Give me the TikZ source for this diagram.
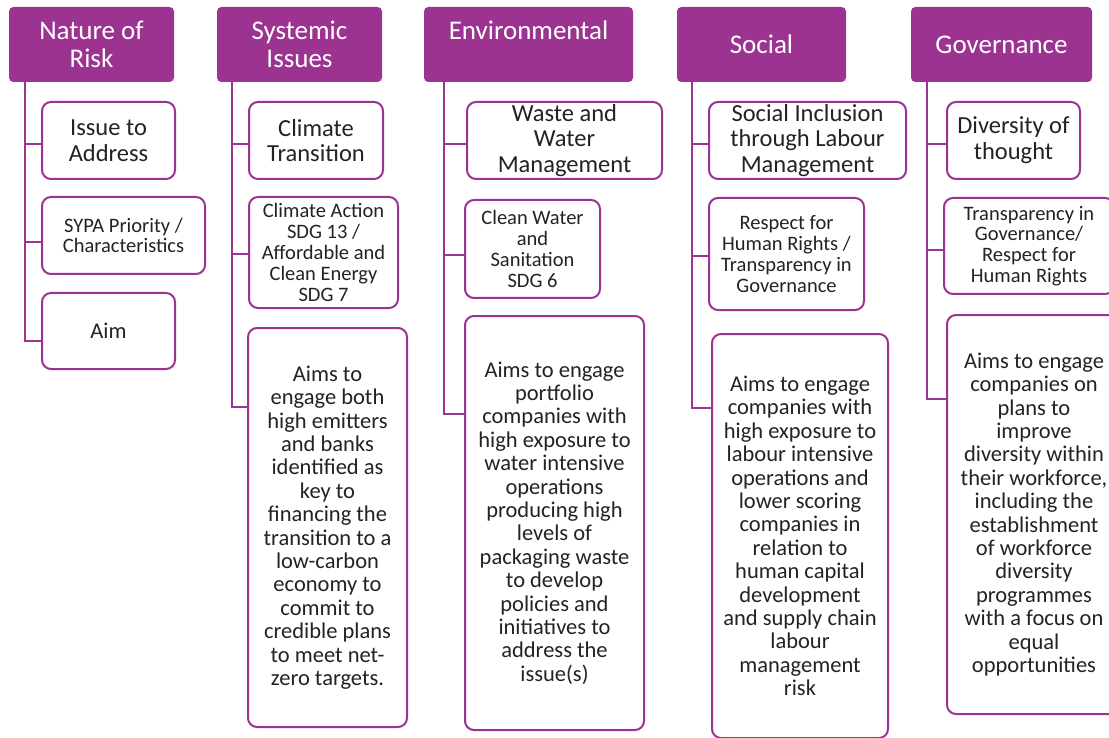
\documentclass[tikz,border=0pt]{standalone}
\usepackage{fontspec}
\setmainfont{Carlito}
\definecolor{pur}{RGB}{156,51,145}
\definecolor{txt}{RGB}{35,35,35}
\tikzset{
  hdr/.style={draw=pur, fill=pur, rounded corners=4pt, text=white, font=\fontsize{27}{28.3}\selectfont, align=center, anchor=north west, inner sep=0pt, line width=1pt},
  bx/.style={draw=pur, fill=white, rounded corners=9pt, line width=2pt, text=txt, align=center, anchor=north west, inner sep=0pt},
  big/.style={font=\fontsize{24.5}{25.7}\selectfont},
  sml/.style={font=\fontsize{20.5}{20.8}\selectfont},
  aimt/.style={font=\fontsize{22.5}{23.4}\selectfont},
  conn/.style={draw=pur, line width=2.5pt},
}
\begin{document}
\begin{tikzpicture}[x=1pt,y=-1pt]
\useasboundingbox (0,0) rectangle (1109,738);
\fill[white] (0,0) rectangle (1109,738);
\clip (0,0) rectangle (1109,738);
% Column 1
\node[hdr, minimum width=164pt, minimum height=74pt] (h1) at (9,7) {Nature of\\Risk};
\node[bx, big, minimum width=133pt, minimum height=77pt] (b11) at (41,101) {Issue to\\Address};
\node[bx, sml, minimum width=163pt, minimum height=77pt] (b12) at (41,196) {SYPA Priority /\\Characteristics};
\node[bx, aimt, minimum width=133pt, minimum height=76pt] (b13) at (41,292) {Aim};
\draw[conn] ([xshift=16pt]h1.south west) |- ([yshift=-10pt]b13.west);
\draw[conn] ([xshift=16pt]h1.south west) |- ([yshift=-3.5pt]b11.west);
\draw[conn] ([xshift=16pt]h1.south west) |- ([yshift=-6.5pt]b12.west);
% Column 2
\node[hdr, minimum width=164pt, minimum height=74pt] (h2) at (217,7) {Systemic\\Issues};
\node[bx, big, minimum width=134pt, minimum height=77pt] (b21) at (248,101) {Climate\\Transition};
\node[bx, sml, minimum width=149pt, minimum height=111pt] (b22) at (248,196) {Climate Action\\SDG 13 /\\Affordable and\\Clean Energy\\SDG 7};
\node[bx, aimt, minimum width=159pt, minimum height=399pt] (b23) at (247,327) {Aims to\\engage both\\high emitters\\and banks\\identified as\\key to\\financing the\\transition to a\\low-carbon\\economy to\\commit to\\credible plans\\to meet net-\\zero targets.};
\draw[conn] ([xshift=15pt]h2.south west) |- ([yshift=-80pt]b23.north west);
\draw[conn] ([xshift=15pt]h2.south west) |- ([yshift=-3.5pt]b21.west);
\draw[conn] ([xshift=15pt]h2.south west) |- ([yshift=-1.5pt]b22.west);
% Column 3
\node[hdr, minimum width=208pt, minimum height=74pt] (h3) at (424,7) {Environmental\\\mbox{}};
\node[bx, big, minimum width=195pt, minimum height=77pt] (b31) at (466,101) {Waste and\\Water\\Management};
\node[bx, sml, minimum width=135pt, minimum height=98pt] (b32) at (464,199) {Clean Water\\and\\Sanitation\\SDG 6};
\node[bx, aimt, minimum width=179pt, minimum height=414pt] (b33) at (464,315) {Aims to engage\\portfolio\\companies with\\high exposure to\\water intensive\\operations\\producing high\\levels of\\packaging waste\\to develop\\policies and\\initiatives to\\address the\\issue(s)};
\draw[conn] ([xshift=20pt]h3.south west) |- ([yshift=-99pt]b33.north west);
\draw[conn] ([xshift=20pt]h3.south west) |- ([yshift=-3.5pt]b31.west);
\draw[conn] ([xshift=20pt]h3.south west) |- ([yshift=-6pt]b32.west);
% Column 4
\node[hdr, minimum width=168pt, minimum height=74pt] (h4) at (677,7) {Social};
\node[bx, big, minimum width=197pt, minimum height=77pt] (b41) at (708,101) {Social Inclusion\\through Labour\\Management};
\node[bx, sml, minimum width=155pt, minimum height=112pt] (b42) at (708,197) {Respect for\\Human Rights /\\Transparency in\\Governance};
\node[bx, aimt, minimum width=176pt, minimum height=404pt] (b43) at (711,333) {Aims to engage\\companies with\\high exposure to\\labour intensive\\operations and\\lower scoring\\companies in\\relation to\\human capital\\development\\and supply chain\\labour\\management\\risk};
\draw[conn] ([xshift=15pt]h4.south west) |- ([yshift=-75pt]b43.north west);
\draw[conn] ([xshift=15pt]h4.south west) |- ([yshift=-3.5pt]b41.west);
\draw[conn] ([xshift=15pt]h4.south west) |- ([yshift=-2pt]b42.west);
% Column 5
\node[hdr, minimum width=180pt, minimum height=74pt] (h5) at (911,7) {Governance};
\node[bx, big, minimum width=133pt, minimum height=77pt] (b51) at (946,101) {Diversity of\\thought};
\node[bx, sml, minimum width=170pt, minimum height=96pt] (b52) at (943,197) {Transparency in\\Governance/\\Respect for\\Human Rights};
\node[bx, aimt, minimum width=174pt, minimum height=399pt] (b53) at (946,314) {Aims to engage\\companies on\\plans to\\improve\\diversity within\\their workforce,\\including the\\establishment\\of workforce\\diversity\\programmes\\with a focus on\\equal\\opportunities};
\draw[conn] ([xshift=16pt]h5.south west) |- ([yshift=-85pt]b53.north west);
\draw[conn] ([xshift=16pt]h5.south west) |- ([yshift=-3.5pt]b51.west);
\draw[conn] ([xshift=16pt]h5.south west) |- ([yshift=-4pt]b52.west);
\end{tikzpicture}
\end{document}
